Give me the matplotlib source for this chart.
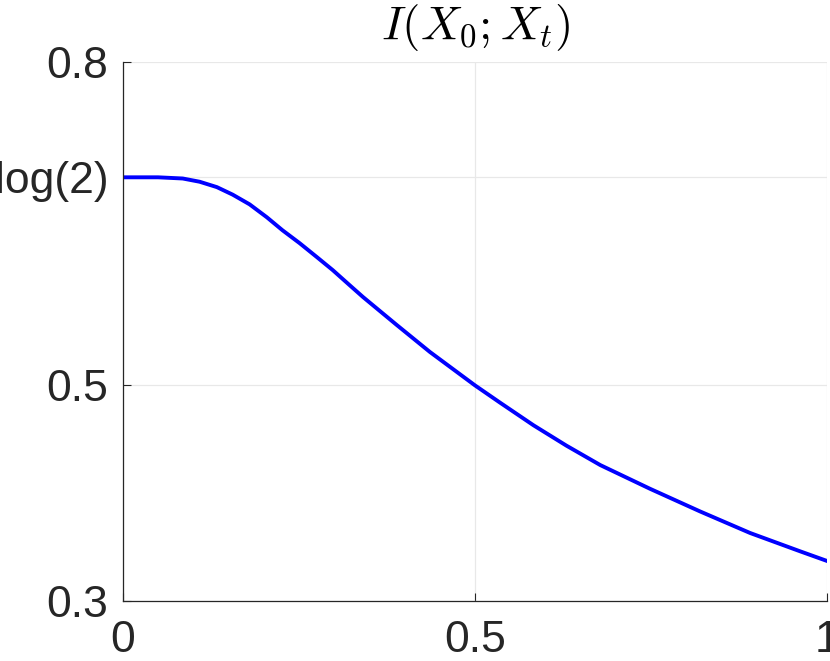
import numpy as np
import matplotlib.pyplot as plt

plt.rcParams['font.family'] = ['Liberation Sans', 'DejaVu Sans']
plt.rcParams['mathtext.fontset'] = 'cm'

# values
t = [0.0, 0.05, 0.085, 0.109, 0.1335, 0.156, 0.180, 0.2045, 0.2266, 0.251, 0.2756,
     0.298, 0.322, 0.341, 0.389, 0.436, 0.5, 0.5355, 0.583, 0.630, 0.678, 0.7486,
     0.8196, 0.8906, 0.9616, 1.0]
mi = [0.6931, 0.6931, 0.692, 0.689, 0.684, 0.677, 0.668, 0.656, 0.644, 0.632, 0.619,
      0.607, 0.593, 0.582, 0.556, 0.531, 0.500, 0.484, 0.463, 0.444, 0.426, 0.404,
      0.383, 0.363, 0.346, 0.337]

yticks = [0.3, 0.5, np.log(2), 0.8]
ytick_labels = ['0.3', '0.5', 'log(2)', '0.8']
xticks = [0, 0.5, 1]
xtick_labels = ['0', '0.5', '1']

fig = plt.figure(figsize=(8.3, 6.61), dpi=100)
ax = fig.add_axes([0.148, 0.091, 0.8485, 0.815])

ax.plot(t, mi, color=(0, 0, 1), linewidth=2.8, solid_joinstyle='round')

ax.set_xlim(0, 1)
ax.set_ylim(0.3, 0.8)
ax.set_xticks(xticks)
ax.set_xticklabels(xtick_labels)
ax.set_yticks(yticks)
ax.set_yticklabels(ytick_labels)
ax.tick_params(direction='in', length=6, width=0.8, color='#262626',
               labelsize=32, labelcolor='#262626')
ax.tick_params(axis='x', pad=14)
ax.tick_params(axis='y', pad=10.5)
ax.grid(True, color='#e8e8e8', linewidth=0.9)
ax.set_axisbelow(True)

for side in ['top', 'right']:
    ax.spines[side].set_visible(False)
for side in ['left', 'bottom']:
    ax.spines[side].set_color('#262626')
    ax.spines[side].set_linewidth(0.9)

ax.set_title(r'$I(X_0;X_t)$', fontsize=34, pad=17)

fig.savefig('out.png', dpi=100)
